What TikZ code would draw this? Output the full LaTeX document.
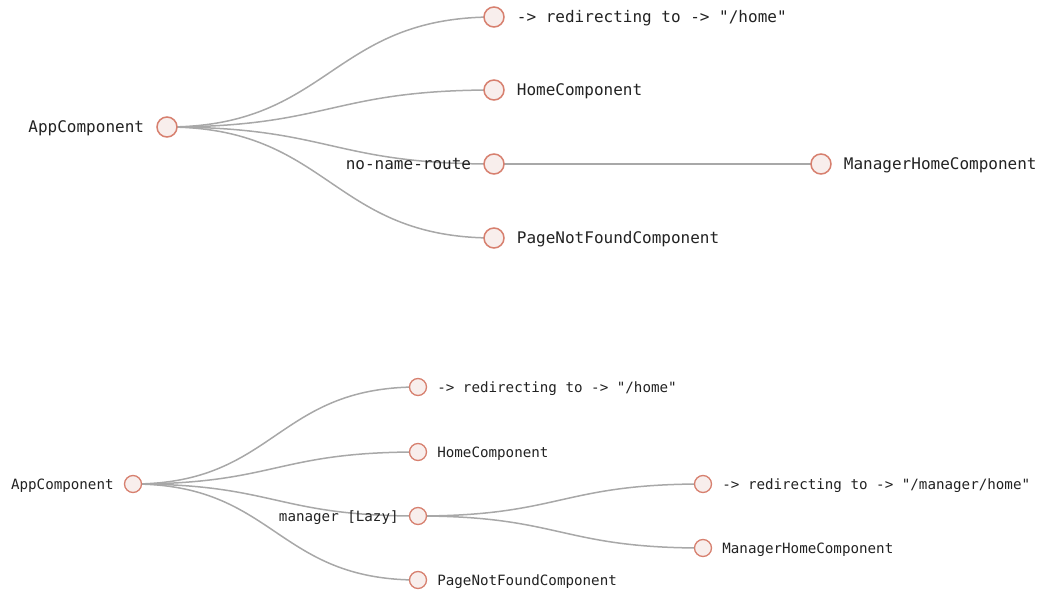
\documentclass[tikz,border=0pt]{standalone}
\usepackage{fontspec}
\setmonofont{DejaVu Sans Mono}
\usetikzlibrary{backgrounds}
\definecolor{nodestroke}{HTML}{D7806F}
\definecolor{nodefill}{HTML}{F8EEEC}
\definecolor{edgegray}{HTML}{A8A8A8}
\definecolor{txt}{HTML}{222222}
\tikzset{
  bignode/.style={circle, draw=nodestroke, fill=nodefill, line width=1.5pt, minimum size=20pt, inner sep=0pt},
  smallnode/.style={circle, draw=nodestroke, fill=nodefill, line width=1.3pt, minimum size=17pt, inner sep=0pt},
  biglbl/.style={font=\ttfamily\fontsize{16}{18}\selectfont, text=txt, inner sep=0pt, text height=0.72em, text depth=0.2em, yshift=-3pt},
  smalllbl/.style={font=\ttfamily\fontsize{14.2}{16}\selectfont, text=txt, inner sep=0pt, text height=0.72em, text depth=0.2em, yshift=-2.5pt},
  edge/.style={draw=edgegray, line width=1.5pt},
}
\begin{document}
\begin{tikzpicture}[x=1pt,y=-1pt]
\useasboundingbox (0,0) rectangle (1045,594);
% ---------- top tree ----------
\node[bignode] (A) at (167,127) {};
\node[bignode] (B1) at (494,17) {};
\node[bignode] (B2) at (494,90) {};
\node[bignode] (B3) at (494,164) {};
\node[bignode] (B4) at (494,238) {};
\node[bignode] (C1) at (821,164) {};
\node[biglbl, anchor=east] (tA) at ([xshift=-12pt]A.west) {AppComponent};
\node[biglbl, anchor=west] (tB1) at ([xshift=12pt]B1.east) {-> redirecting to -> "/home"};
\node[biglbl, anchor=west] (tB2) at ([xshift=12pt]B2.east) {HomeComponent};
\node[biglbl, anchor=east] (tB3) at ([xshift=-12pt]B3.west) {no-name-route};
\node[biglbl, anchor=west] (tB4) at ([xshift=12pt]B4.east) {PageNotFoundComponent};
\node[biglbl, anchor=west] (tC1) at ([xshift=12pt]C1.east) {ManagerHomeComponent};
% ---------- bottom tree ----------
\node[smallnode] (a) at (133,484) {};
\node[smallnode] (b1) at (418,387) {};
\node[smallnode] (b2) at (418,452) {};
\node[smallnode] (b3) at (418,516) {};
\node[smallnode] (b4) at (418,580) {};
\node[smallnode] (c1) at (703,484) {};
\node[smallnode] (c2) at (703,548) {};
\node[smalllbl, anchor=east] (ta) at ([xshift=-10pt]a.west) {AppComponent};
\node[smalllbl, anchor=west] (tb1) at ([xshift=10pt]b1.east) {-> redirecting to -> "/home"};
\node[smalllbl, anchor=west] (tb2) at ([xshift=10pt]b2.east) {HomeComponent};
\node[smalllbl, anchor=east] (tb3) at ([xshift=-10pt]b3.west) {manager [Lazy]};
\node[smalllbl, anchor=west] (tb4) at ([xshift=10pt]b4.east) {PageNotFoundComponent};
\node[smalllbl, anchor=west] (tc1) at ([xshift=10pt]c1.east) {-> redirecting to -> "/manager/home"};
\node[smalllbl, anchor=west] (tc2) at ([xshift=10pt]c2.east) {ManagerHomeComponent};
% ---------- edges ----------
\begin{scope}[on background layer]
\foreach \t in {B1,B2,B3,B4}
  \draw[edge] (A.center) .. controls +(163.5,0) and +(-163.5,0) .. (\t.center);
\draw[edge] (B3.center) -- (C1.center);
\foreach \t in {b1,b2,b3,b4}
  \draw[edge] (a.center) .. controls +(142.5,0) and +(-142.5,0) .. (\t.center);
\foreach \t in {c1,c2}
  \draw[edge] (b3.center) .. controls +(142.5,0) and +(-142.5,0) .. (\t.center);
\end{scope}
\end{tikzpicture}
\end{document}
